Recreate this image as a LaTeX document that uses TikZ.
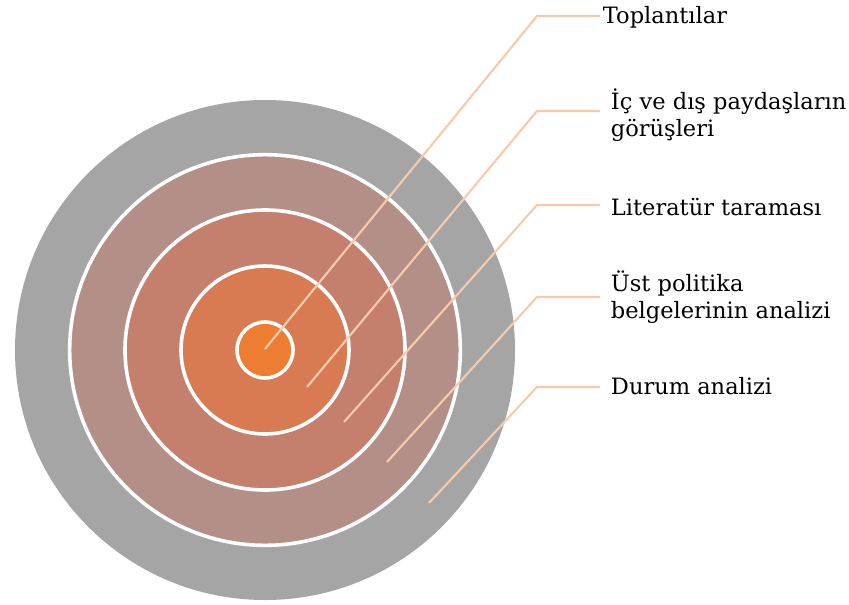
\documentclass[tikz,border=0pt]{standalone}
\usepackage{fontspec}
\setmainfont{DejaVu Serif}
\definecolor{ringgray}{HTML}{A5A5A5}
\definecolor{ringtwo}{HTML}{B48F88}
\definecolor{ringthree}{HTML}{C47F6D}
\definecolor{ringfour}{HTML}{D87A52}
\definecolor{ringcore}{HTML}{ED7D31}
\definecolor{leadcol}{HTML}{F7CAAC}

\begin{document}
\begin{tikzpicture}[x=0.75pt,y=-0.75pt,
		ring/.style={draw=white,line width=2.7pt},
		leader/.style={draw=leadcol,line width=1.6pt},
		lbl/.style={anchor=west,align=left,inner ysep=0pt,inner xsep=8pt,font=\fontsize{16.9}{20}\selectfont}]
		\useasboundingbox (0,0) rectangle (849,604);
		\fill[ringgray] (265,350) circle[radius=187.5pt];
		\filldraw[ring,fill=ringtwo] (265,350) circle[radius=146.5pt];
		\filldraw[ring,fill=ringthree] (265,350) circle[radius=105pt];
		\filldraw[ring,fill=ringfour] (265,350) circle[radius=63pt];
		\filldraw[ring,fill=ringcore] (265,350) circle[radius=21pt];
		\node[lbl,inner xsep=2pt] (toplanti) at (600,17) {Toplantılar};
		\node[lbl] (paydas) at (600,115) {İç ve dış paydaşların\\görüşleri};
		\node[lbl] (literatur) at (600,207) {Literatür taraması};
		\node[lbl] (politika) at (600,297) {Üst politika\\belgelerinin analizi};
		\node[lbl] (durum) at (600,386) {Durum analizi};
		\coordinate (s1) at (265,349);
		\coordinate (s2) at (307,387);
		\coordinate (s3) at (344,422);
		\coordinate (s4) at (387,462);
		\coordinate (s5) at (429,503);
		\draw[leader] (s1)--(537,16)--(toplanti.west |- 0,16);
		\draw[leader] (s2)--(537,111)--(paydas.west |- 0,111);
		\draw[leader] (s3)--(537,205)--(literatur.west |- 0,205);
		\draw[leader] (s4)--(537,297)--(politika.west);
		\draw[leader] (s5)--(537,387)--(durum.west |- 0,387);
	\end{tikzpicture}
\end{document}
